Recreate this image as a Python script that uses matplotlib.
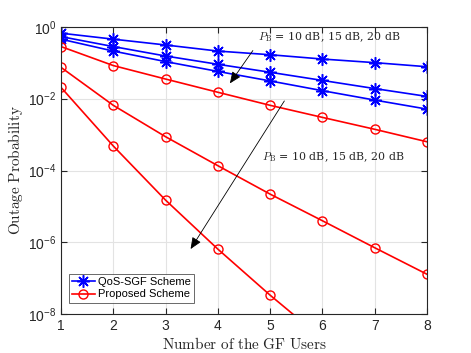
import numpy as np
import matplotlib
matplotlib.use("Agg")
import matplotlib.pyplot as plt

users = [1, 2, 3, 4, 5, 6, 7, 8]
qos_10 = [0.66, 0.45, 0.31, 0.21, 0.166, 0.126, 0.10, 0.077]
qos_15 = [0.53, 0.28, 0.153, 0.09, 0.054, 0.032, 0.019, 0.0115]
qos_20 = [0.45, 0.21, 0.107, 0.057, 0.031, 0.0166, 0.0091, 0.0051]
prop_10 = [0.28, 0.083, 0.035, 0.015, 0.0065, 0.003, 0.0014, 0.00063]
prop_15 = [0.074, 0.0065, 8.7e-4, 1.36e-4, 2.2e-5, 4.0e-6, 7.1e-7, 1.3e-7]
prop_20 = [0.0205, 4.8e-4, 1.5e-5, 6.5e-7, 3.4e-8, 2.1e-9, 1.6e-10, 1.3e-11]
yticks = [1e0, 1e-2, 1e-4, 1e-6, 1e-8]
annot_text = r"$P_{\rm B}$ = 10 dB, 15 dB, 20 dB"
legend_labels = ["QoS-SGF Scheme", "Proposed Scheme"]

plt.rcParams['mathtext.fontset'] = 'cm'
plt.rcParams['font.family'] = ['Liberation Sans', 'DejaVu Sans']

fig = plt.figure(figsize=(4.71, 3.53), dpi=100)
ax = fig.add_axes([61/471, 1-314.3/353, (427-61)/471, (314.3-26.7)/353])

star = (8, 2, 0)
for i, s in enumerate([qos_10, qos_15, qos_20]):
    ax.plot(users, s, color='#0000ff', marker=star, markersize=9, lw=1.2,
            markeredgewidth=1.1, label=legend_labels[0] if i == 0 else None)
for i, s in enumerate([prop_10, prop_15, prop_20]):
    ax.plot(users, s, color='#ff0000', marker='o', markersize=6.5, lw=1.2,
            markerfacecolor='none', markeredgewidth=1.0,
            label=legend_labels[1] if i == 0 else None)

ax.set_yscale('log')
ax.set_xlim(1, 8)
ax.set_ylim(1e-8, 1e0)
ax.set_xticks(users)
ax.set_yticks(yticks)
ax.yaxis.set_minor_locator(matplotlib.ticker.NullLocator())
ax.tick_params(direction='in', labelsize=10, colors='#262626', length=4, top=True, right=True)
ax.grid(True, color='#e3e3e3', lw=0.8)
ax.set_axisbelow(True)
for sp in ax.spines.values():
    sp.set_color('#262626')
    sp.set_linewidth(0.8)

ax.set_xlabel(r"$\mathrm{Number\ of\ the\ GF\ Users}$", fontsize=11, color='#262626', labelpad=2)
ax.set_ylabel(r"$\mathrm{Outage\ Probability}$", fontsize=11, color='#262626', labelpad=2)

# annotations in data coords
ax.text(4.76, 10**-0.3, annot_text, fontsize=7.95, family='serif', math_fontfamily='cm',
        ha='left', va='center', color='#262626')
ax.annotate("", xy=(4.2, 10**-1.64), xytext=(4.7, 10**-0.6),
            arrowprops=dict(arrowstyle='-|>,head_length=0.7,head_width=0.3', color='black', lw=0.6))
ax.text(4.84, 10**-3.62, annot_text, fontsize=7.95, family='serif', math_fontfamily='cm',
        ha='left', va='center', color='#262626')
ax.annotate("", xy=(3.45, 10**-6.25), xytext=(5.3, 10**-2.0),
            arrowprops=dict(arrowstyle='-|>,head_length=0.7,head_width=0.3', color='black', lw=0.6))

leg = ax.legend(loc='lower left', bbox_to_anchor=(0.022, 0.04), fontsize=8, frameon=True,
                fancybox=False, edgecolor='#262626', handlelength=2.0, borderpad=0.3,
                labelspacing=0.2, handletextpad=0.3, borderaxespad=0)
leg.get_frame().set_linewidth(0.6)

fig.savefig("out.png", dpi=100)
